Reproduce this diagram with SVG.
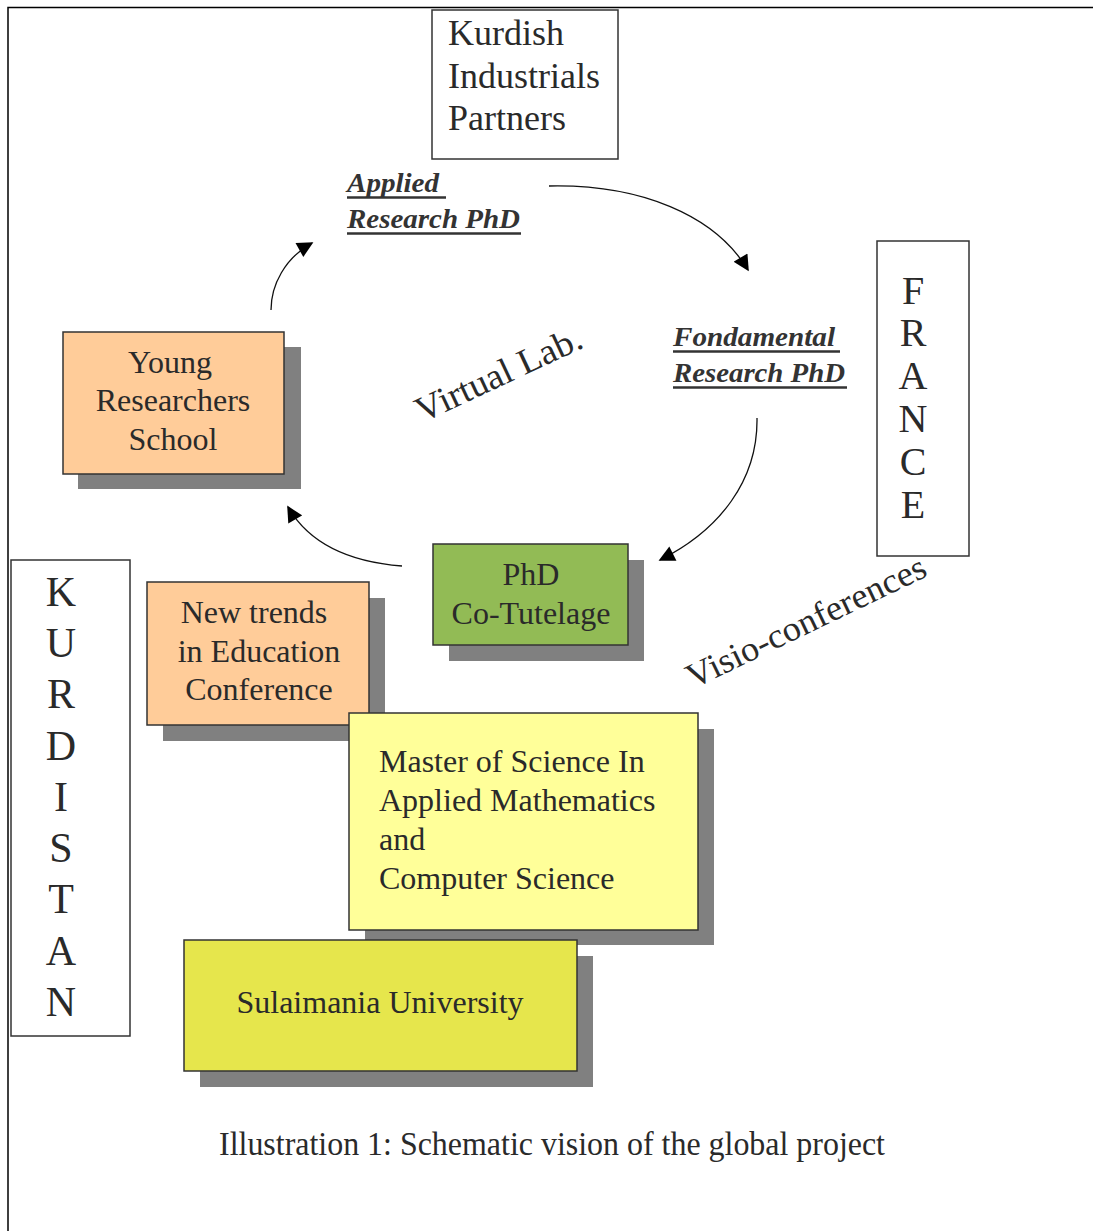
<svg xmlns="http://www.w3.org/2000/svg" width="1093" height="1231" viewBox="0 0 1093 1231">
<defs>
<style>
.t{font-family:"Liberation Serif","Times New Roman",serif;fill:#2a2a2a}
.box{stroke:#333;stroke-width:1.5}
.sh{fill:#808080}
.frame{fill:#fff;stroke:#333;stroke-width:1.5}
.lbl{font-family:"Liberation Serif","Times New Roman",serif;font-weight:bold;font-style:italic;fill:#333}
.ul{stroke:#333;stroke-width:2.5}
.conn{fill:none;stroke:#111;stroke-width:1.3}
</style>
<marker id="ah" viewBox="0 0 10 10" refX="9" refY="5" markerWidth="18" markerHeight="16" markerUnits="userSpaceOnUse" orient="auto">
<path d="M0,0 L10,5 L0,10 z" fill="#000"/>
</marker>
</defs>
<rect width="1093" height="1231" fill="#fff"/>
<path d="M8,1231 V7.5 H1093" fill="none" stroke="#000" stroke-width="1.5"/>

<g id="kurdish-partners">
<rect class="frame" x="432" y="10" width="186" height="149"/>
<text class="t" font-size="36" x="448" y="45">Kurdish</text>
<text class="t" font-size="36" x="448" y="88">Industrials</text>
<text class="t" font-size="36" x="448" y="130">Partners</text>
</g>

<g id="applied-research">
<text class="lbl" font-size="27" x="347" y="192" textLength="92" lengthAdjust="spacingAndGlyphs">Applied</text>
<text class="lbl" font-size="27" x="347" y="228" textLength="173" lengthAdjust="spacingAndGlyphs">Research PhD</text>
<line class="ul" x1="347" y1="197.5" x2="446" y2="197.5"/>
<line class="ul" x1="347" y1="233.5" x2="521" y2="233.5"/>
</g>

<g id="fondamental-research">
<text class="lbl" font-size="27" x="673" y="346" textLength="162" lengthAdjust="spacingAndGlyphs">Fondamental</text>
<text class="lbl" font-size="27" x="673" y="382" textLength="172" lengthAdjust="spacingAndGlyphs">Research PhD</text>
<line class="ul" x1="673" y1="351.5" x2="840" y2="351.5"/>
<line class="ul" x1="673" y1="387.5" x2="847" y2="387.5"/>
</g>

<g id="france">
<rect class="frame" x="877" y="241" width="92" height="315"/>
<g class="t" font-size="40" text-anchor="middle">
<text x="913" y="304">F</text>
<text x="913" y="346">R</text>
<text x="913" y="389">A</text>
<text x="913" y="432">N</text>
<text x="913" y="475">C</text>
<text x="913" y="518">E</text>
</g>
</g>

<g id="kurdistan">
<rect class="frame" x="11" y="560" width="119" height="476"/>
<g class="t" font-size="42" text-anchor="middle">
<text x="61" y="606">K</text>
<text x="61" y="657">U</text>
<text x="61" y="708">R</text>
<text x="61" y="760">D</text>
<text x="61" y="811">I</text>
<text x="61" y="862">S</text>
<text x="61" y="913">T</text>
<text x="61" y="965">A</text>
<text x="61" y="1016">N</text>
</g>
</g>

<g id="young-researchers">
<rect class="sh" x="78" y="347" width="223" height="142"/>
<rect class="box" x="63" y="332" width="221" height="142" fill="#ffcc99"/>
<g class="t" font-size="32" text-anchor="middle">
<text x="170" y="373">Young</text>
<text x="173" y="411">Researchers</text>
<text x="173" y="450">School</text>
</g>
</g>

<g id="phd-cotutelage">
<rect class="sh" x="449" y="560" width="195" height="101"/>
<rect class="box" x="433" y="544" width="195" height="101" fill="#92bb55"/>
<g class="t" font-size="32" text-anchor="middle">
<text x="531" y="585">PhD</text>
<text x="531" y="624">Co-Tutelage</text>
</g>
</g>

<g id="new-trends">
<rect class="sh" x="163" y="598" width="222" height="143"/>
<rect class="box" x="147" y="582" width="222" height="143" fill="#ffcc99"/>
<g class="t" font-size="32" text-anchor="middle">
<text x="254" y="623">New trends</text>
<text x="259" y="662">in Education</text>
<text x="259" y="700">Conference</text>
</g>
</g>

<g id="master">
<rect class="sh" x="365" y="729" width="349" height="216"/>
<rect class="box" x="349" y="713" width="349" height="217" fill="#ffff99"/>
<g class="t" font-size="32">
<text x="379" y="772">Master of Science In</text>
<text x="379" y="811">Applied Mathematics</text>
<text x="379" y="850">and</text>
<text x="379" y="889">Computer Science</text>
</g>
</g>

<g id="sulaimania">
<rect class="sh" x="200" y="956" width="393" height="131"/>
<rect class="box" x="184" y="940" width="393" height="131" fill="#e6e64c"/>
<text class="t" font-size="32" x="380" y="1013" text-anchor="middle">Sulaimania University</text>
</g>

<g id="virtual-lab">
<text class="t" font-size="36" transform="translate(422,423) rotate(-25)" textLength="180" lengthAdjust="spacingAndGlyphs">Virtual Lab.</text>
</g>

<g id="visio-conferences">
<text class="t" font-size="35" transform="translate(693,689) rotate(-25.7)" textLength="262" lengthAdjust="spacingAndGlyphs">Visio-conferences</text>
</g>

<g id="connectors">
<path class="conn" d="M549,186 C640,184 715,215 748,270" marker-end="url(#ah)"/>
<path class="conn" d="M757,418 C758,480 720,530 660,560" marker-end="url(#ah)"/>
<path class="conn" d="M402,566 C350,562 310,545 288,507" marker-end="url(#ah)"/>
<path class="conn" d="M271,310 C271,285 285,258 312,243" marker-end="url(#ah)"/>
</g>

<text class="t" font-size="34" x="219" y="1155" textLength="666" lengthAdjust="spacingAndGlyphs" fill="#000">Illustration 1: Schematic vision of the global project</text>
</svg>
